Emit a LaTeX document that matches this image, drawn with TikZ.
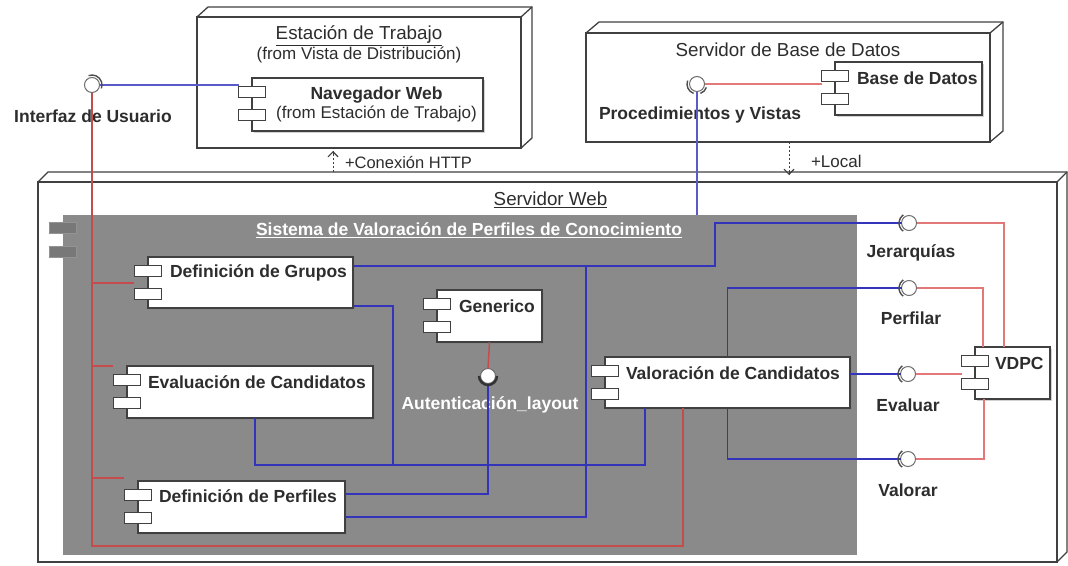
\documentclass[tikz,border=0pt]{standalone}
\usepackage{fontspec}
\setmainfont{Liberation Sans}
\usetikzlibrary{arrows.meta,shadows}
\definecolor{boxline}{RGB}{64,64,64}
\definecolor{labeltext}{RGB}{45,45,45}
\definecolor{compgray}{RGB}{138,138,138}
\definecolor{compport}{RGB}{120,120,120}
\definecolor{linkblue}{RGB}{52,52,186}
\definecolor{linklite}{RGB}{90,90,200}
\definecolor{linkred}{RGB}{196,76,76}
\definecolor{linkpink}{RGB}{226,120,120}
\definecolor{ringgray}{RGB}{110,110,110}

\begin{document}
\begin{tikzpicture}[x=1pt,y=-1pt,
    font=\fontsize{17.5}{20}\selectfont,
    every node/.style={inner sep=0pt, outer sep=0pt, text=labeltext},
    depnode/.style={draw=boxline, line width=1.3pt, fill=white, anchor=north west},
    face/.style={draw=boxline, line width=1.3pt},
    comp/.style={draw=boxline, line width=1.3pt, fill=white, anchor=north west,
      drop shadow={shadow xshift=2pt, shadow yshift=-2pt, opacity=0.35}},
    port/.style={draw=boxline, line width=1.1pt, fill=white, minimum width=27pt, minimum height=10.5pt},
    iface/.style={circle, draw=ringgray, line width=1pt, fill=white, minimum size=15pt},
    socket/.style={draw=ringgray!70!black, line width=1.4pt},
    lbl/.style={font=\fontsize{17.5}{20}\selectfont\bfseries},
    ttl/.style={font=\fontsize{18.8}{22}\selectfont},
    small/.style={font=\fontsize{17}{19}\selectfont},
    blueline/.style={linkblue, line width=1.4pt},
    bluelite/.style={linklite, line width=1.1pt},
    redline/.style={linkred, line width=1.4pt},
    redlite/.style={linkpink, line width=1.1pt},
    depend/.style={draw=boxline, line width=0.9pt, dash pattern=on 2pt off 2pt},
    deptip/.style={draw=boxline, line width=0.9pt, -{Straight Barb[length=5pt,width=10pt,line width=1.1pt]}},
  ]
  \useasboundingbox (0,0) rectangle (1068,565);

  % deployment nodes
  \node[depnode, minimum width=1019pt, minimum height=380pt] (servweb) at (38,182) {};
  \draw[face] (servweb.north west) -- ++(10,-10) -- ++(1019,0) -- ++(0,380) -- ++(-10,10);
  \draw[face] (servweb.north east) -- ++(10,-10);
  \node[depnode, minimum width=324pt, minimum height=131pt] (estacion) at (197,17) {};
  \draw[face] (estacion.north west) -- ++(11,-10) -- ++(324,0) -- ++(0,131) -- ++(-11,10);
  \draw[face] (estacion.north east) -- ++(11,-10);
  \node[depnode, minimum width=404pt, minimum height=109pt] (bdserver) at (586,33) {};
  \draw[face] (bdserver.north west) -- ++(13,-11) -- ++(404,0) -- ++(0,109) -- ++(-13,11);
  \draw[face] (bdserver.north east) -- ++(13,-11);

  \node[ttl] (estacion-t) at ([yshift=-19pt]estacion.north) {\underline{Estación de Trabajo}};
  \node[small] (estacion-f) at ([yshift=-38pt]estacion.north) {(from Vista de Distribución)};
  \node[ttl] (bdserver-t) at ([yshift=-17pt]bdserver.north) {Servidor de Base de Datos};
  \node[ttl] (servweb-t) at ([xshift=3pt,yshift=-18pt]servweb.north) {\underline{Servidor Web}};

  % grey component
  \node[fill=compgray, anchor=north west, minimum width=794pt, minimum height=340pt] (sistema) at (63,215) {};
  \node[port, draw=compport!80!white, fill=compport] (sistema-p1) at ([yshift=-13pt]sistema.north west) {};
  \node[port, draw=compport!80!white, fill=compport] (sistema-p2) at ([yshift=-37pt]sistema.north west) {};
  \node[lbl, text=white] (sistema-t) at ([xshift=9pt,yshift=-15pt]sistema.north)
    {\underline{Sistema de Valoración de Perfiles de Conocimiento}};

  % components
  \node[comp, minimum width=231pt, minimum height=53pt] (nav) at (252,78) {};
  \node[comp, minimum width=147pt, minimum height=53pt] (bd) at (835,62) {};
  \node[comp, minimum width=205pt, minimum height=51pt] (grupos) at (148,257) {};
  \node[comp, minimum width=105pt, minimum height=52pt] (gen) at (437,290) {};
  \node[comp, minimum width=246pt, minimum height=52pt] (eval) at (127,366) {};
  \node[comp, minimum width=245pt, minimum height=51pt] (valor) at (605,357) {};
  \node[comp, minimum width=207pt, minimum height=52pt] (perf) at (138,481) {};
  \node[comp, minimum width=75pt, minimum height=52pt] (vdpc) at (975,347) {};
  \foreach \c in {nav,bd,grupos,gen,eval,valor,perf,vdpc} {
    \node[port] (\c-p1) at ([yshift=-14pt]\c.north west) {};
    \node[port] (\c-p2) at ([yshift=-37pt]\c.north west) {};
  }

  \node[align=center] (nav-t) at ([xshift=9pt]nav.center)
    {\textbf{Navegador Web}\\[-1pt]{\fontsize{17}{19}\selectfont(from Estación de Trabajo)}};
  \node[lbl, anchor=west] (bd-t) at ([xshift=22pt,yshift=-16pt]bd.north west) {Base de Datos};
  \node[lbl, anchor=west] (grupos-t) at ([xshift=22pt,yshift=-16pt]grupos.north west) {Definición de Grupos};
  \node[lbl, anchor=west] (gen-t) at ([xshift=22pt,yshift=-16pt]gen.north west) {Generico};
  \node[lbl, anchor=west] (eval-t) at ([xshift=21pt,yshift=-16pt]eval.north west) {Evaluación de Candidatos};
  \node[lbl, anchor=west] (valor-t) at ([xshift=21pt,yshift=-16pt]valor.north west) {Valoración de Candidatos};
  \node[lbl, anchor=west] (perf-t) at ([xshift=21pt,yshift=-15pt]perf.north west) {Definición de Perfiles};
  \node[lbl, anchor=west] (vdpc-t) at ([xshift=20pt,yshift=-16pt]vdpc.north west) {VDPC};

  % interfaces
  \node[iface] (iu) at (92,85) {};
  \node[iface] (pv) at (697,84) {};
  \node[iface] (jer) at (909,223) {};
  \node[iface] (pfl) at (909,288) {};
  \node[iface] (evl) at (908,374) {};
  \node[iface] (vlr) at (908,459) {};
  \node[iface] (auth) at (488,376) {};
  \node[lbl] (iu-t) at (93,116) {Interfaz de Usuario};
  \node[lbl] (pv-t) at (700,115) {Procedimientos y Vistas};
  \node[lbl] (jer-t) at (911,253) {Jerarquías};
  \node[lbl] (pfl-t) at (911,318) {Perfilar};
  \node[lbl] (evl-t) at (908,405) {Evaluar};
  \node[lbl] (vlr-t) at (908,490) {Valorar};
  \node[lbl, text=white] (auth-t) at (490,405) {Autenticación\_layout};

  % connectors
  \draw[bluelite] (iu.east) -- (iu.east -| nav-p1.west);
  \draw[redlite] (pv.east) -- (pv.east -| bd-p1.west);
  \draw[bluelite] (pv.south) -- (pv.south |- sistema.north);

  \draw[redline] (iu.south) |- (683,546) -- ([xshift=78pt]valor.south west);
  \draw[redline] (92,283) -- ([xshift=-14pt,yshift=-26pt]grupos.north west);
  \draw[redline] (92,366) -- ([xshift=-14pt]eval.north west);
  \draw[redline] (92,478) -- ([xshift=-14pt,yshift=3pt]perf.north west);
  \draw[redline] (gen.south) -- (auth.north);

  \draw[blueline] ([yshift=-9pt]grupos.north east) -- (715,266) |- (jer.west);
  \draw[blueline] ([yshift=-36pt]perf.north east) -| (586,266);
  \draw[blueline] ([yshift=-13pt]perf.north east) -| (auth.south);
  \draw[blueline] ([yshift=2pt]grupos.south east) -| (393,465);
  \draw[blueline] ([xshift=5pt]eval.south) |- (645,465) -- ([xshift=40pt]valor.south west);
  \draw[blueline] (valor.north) |- (pfl.west);
  \draw[blueline] (valor.south) |- (vlr.west);
  \draw[blueline] (evl.west -| valor.east) -- (evl.west);

  \draw[redlite] (jer.east) -| ([xshift=29pt]vdpc.north west);
  \draw[redlite] (pfl.east) -| ([xshift=8pt]vdpc.north west);
  \draw[redlite] (evl.east) -- (evl.east -| vdpc-p1.west);
  \draw[redlite] (vlr.east) -| ([xshift=9pt]vdpc.south west);

  % sockets
  \foreach \i in {jer,pfl,evl,vlr}
    \draw[socket] ([shift={(125:10)}]\i.center) arc[start angle=125, end angle=235, radius=10];
  \draw[socket] ([shift={(-110:10)}]iu.center) arc[start angle=-110, end angle=20, radius=10];
  \draw[socket] ([shift={(110:10)}]pv.center) arc[start angle=110, end angle=200, radius=10];
  \draw[socket] ([shift={(20:10)}]pv.center) arc[start angle=20, end angle=70, radius=10];
  \draw[socket, line width=2.4pt, draw=black!80] ([shift={(0:9)}]auth.center) arc[start angle=0, end angle=180, radius=9];

  % dependencies between deployment nodes
  \draw[depend] ([xshift=295pt,yshift=10pt]servweb.north west) -- ([xshift=136pt,yshift=-3pt]estacion.south west);
  \draw[deptip] ([xshift=136pt,yshift=-6pt]estacion.south west) -- ([xshift=136pt,yshift=-3pt]estacion.south west);
  \draw[depend] ([xshift=203pt]bdserver.south west) -- ([xshift=751pt,yshift=7pt]servweb.north west);
  \draw[deptip] ([xshift=751pt,yshift=10pt]servweb.north west) -- ([xshift=751pt,yshift=7pt]servweb.north west);
  \node[anchor=west, font=\fontsize{16.5}{19}\selectfont] (http-t) at (345,163) {+Conexión HTTP};
  \node[anchor=west, font=\fontsize{17}{19}\selectfont] (local-t) at (811,161) {+Local};
\end{tikzpicture}
\end{document}
